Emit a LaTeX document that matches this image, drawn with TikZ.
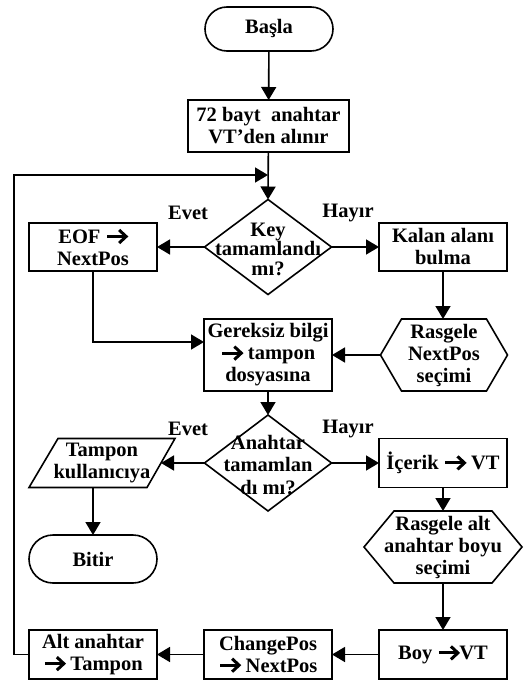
\documentclass[tikz,border=0pt]{standalone}
\usepackage{fontspec}
\setmainfont{Liberation Serif}
\usetikzlibrary{arrows.meta,shapes.geometric}
\newsavebox\arrbox
\AtBeginDocument{\sbox\arrbox{\pgfpicture
  \pgfsetbaseline{0pt}%
  \pgfsetlinewidth{3pt}%
  \pgfpathmoveto{\pgfpoint{0.5pt}{6.8pt}}\pgfpathlineto{\pgfpoint{18.5pt}{6.8pt}}\pgfusepath{stroke}%
  \pgfsetmiterjoin\pgfsetmiterlimit{10}%
  \pgfpathmoveto{\pgfpoint{12.5pt}{0.3pt}}\pgfpathlineto{\pgfpoint{19.5pt}{6.8pt}}\pgfpathlineto{\pgfpoint{12.5pt}{13.3pt}}\pgfusepath{stroke}%
  \pgfpathrectangle{\pgfpoint{0pt}{0pt}}{\pgfpoint{21pt}{13pt}}\pgfusepath{use as bounding box}%
  \endpgfpicture}}
\newcommand\myarr{\usebox\arrbox}
\begin{document}
\begin{tikzpicture}[x=1pt,y=-1pt,
  every node/.style={font=\bfseries\fontsize{20.5}{22}\selectfont, align=center, inner sep=0pt, outer sep=0pt},
  box/.style={draw, line width=1.6pt, minimum width=128pt, minimum height=48pt},
  term/.style={draw, line width=1.6pt, rounded corners=22pt, minimum width=128pt, minimum height=44pt},
  dia/.style={draw, diamond, line width=1.6pt, minimum width=127pt, minimum height=95pt},
  shp/.style={line width=1.6pt, line join=miter},
  arr/.style={line width=1.6pt, -{Triangle[length=13pt,width=15pt]}}]
\useasboundingbox (0,0) rectangle (526,682);

% nodes
\node[term] (start) at (269,29) {Başla};
\node[box, minimum width=161pt, minimum height=52pt] (b72) at (268.5,126) {72 bayt~~anahtar\\VT’den alınır};
\node[dia] (d1) at (268,247) {};
\node[font=\bfseries\fontsize{20.5}{19.5}\selectfont] (d1t) at (268,249) {Key\\tamamlandı\\mı?};
\node[box] (eof) at (93,247) {EOF \myarr\\NextPos};
\node[box] (kalan) at (443,247) {Kalan alanı\\bulma};
\node[box, minimum height=72pt] (ger) at (268,355) {Gereksiz bilgi\\\myarr{} tampon\\dosyasına};
\node[minimum width=127pt, minimum height=72pt] (h1) at (444,355) {Rasgele\\NextPos\\seçimi};
\draw[shp] (h1.west) -- ([xshift=21pt]h1.north west) -- ([xshift=-21pt]h1.north east) -- (h1.east) -- ([xshift=-21pt]h1.south east) -- ([xshift=21pt]h1.south west) -- cycle;
\node[dia, minimum height=96pt] (d2) at (268,463) {};
\node[font=\bfseries\fontsize{20.5}{22.5}\selectfont] (d2t) at (268,465) {Anahtar\\tamamlan\\dı mı?};
\node[minimum width=146pt, minimum height=49pt] (tp) at (102,463) {Tampon\\kullanıcıya};
\draw[shp] ([xshift=29pt]tp.north west) -- (tp.north east) -- ([xshift=-28pt]tp.south east) -- (tp.south west) -- cycle;
\coordinate (tpR) at ([xshift=-14pt]tp.east);
\node[box, minimum height=49pt] (ic) at (443,463) {İçerik \myarr{} VT};
\node[term, minimum height=48pt, rounded corners=24pt] (bitir) at (93,559) {Bitir};
\node[minimum width=158pt, minimum height=72pt] (h2) at (443,547) {Rasgele alt\\anahtar boyu\\seçimi};
\draw[shp] (h2.west) -- ([xshift=30pt]h2.north west) -- ([xshift=-30pt]h2.north east) -- (h2.east) -- ([xshift=-30pt]h2.south east) -- ([xshift=30pt]h2.south west) -- cycle;
\node[box, minimum height=49pt] (boy) at (443,654.5) {Boy \myarr VT};
\node[box, minimum height=49pt] (chg) at (268,654.5) {ChangePos\\\myarr{} NextPos};
\node[box, minimum height=49pt] (alt) at (93,654.5) {Alt anahtar\\\myarr{} Tampon};

% labels
\node (l1) at (188,213) {Evet};
\node (l2) at (348,213) {Hayır};
\node (l3) at (188,429) {Evet};
\node (l4) at (348,429) {Hayır};

% connectors
\coordinate (loopL) at (14,175);
\coordinate (loopE) at (268,175);
\draw[arr] (start) -- (b72);
\draw[arr] (b72) -- (d1.north);
\draw[arr] (alt.west) -| (loopL) -- (loopE);
\draw[arr] (d1.west) -- (eof.east);
\draw[arr] (d1.east) -- (kalan.west);
\draw[arr] (eof.south) |- ([yshift=13pt]ger.west);
\draw[arr] (kalan.south) -- (kalan.south |- h1.north);
\draw[arr] (h1.west) -- (ger.east);
\draw[arr] (ger.south) -- (d2.north);
\draw[arr] (d2.west) -- (tpR);
\draw[arr] (d2.east) -- (ic.west);
\draw[arr] (bitir.north |- tp.south) -- (bitir.north);
\draw[arr] (ic.south) -- (h2.north);
\draw[arr] (h2.south) -- (boy.north);
\draw[arr] (boy.west) -- (chg.east);
\draw[arr] (chg.west) -- (alt.east);
\end{tikzpicture}
\end{document}
